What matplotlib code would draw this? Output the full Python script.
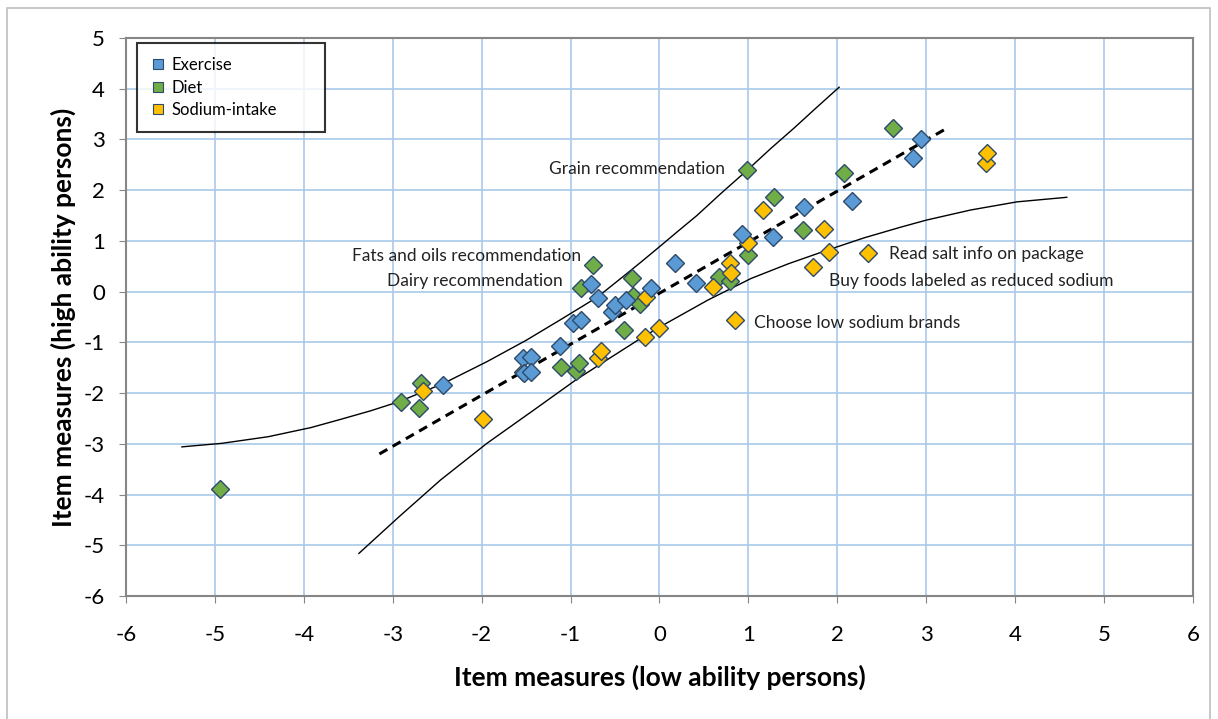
import matplotlib
matplotlib.use("Agg")
import matplotlib.pyplot as plt
from matplotlib.lines import Line2D
from matplotlib.patches import Rectangle

plt.rcParams["font.family"] = ["Lato", "DejaVu Sans"]
plt.rcParams["axes.unicode_minus"] = False

# item measures (low ability x, high ability y)
exercise_x = [-2.44, -1.53, -1.44, -1.52, -1.44, -1.12, -0.97, -0.88, -0.77, -0.69, -0.53,
              -0.50, -0.38, -0.09, 0.17, 0.41, 0.93, 1.28, 1.63, 2.17, 2.85, 2.94]
exercise_y = [-1.84, -1.31, -1.28, -1.61, -1.58, -1.07, -0.61, -0.55, 0.16, -0.13, -0.41,
              -0.26, -0.17, 0.07, 0.56, 0.18, 1.14, 1.07, 1.66, 1.79, 2.64, 3.00]

diet_x = [-4.94, -2.91, -2.71, -2.68, -1.11, -0.94, -0.90, -0.88, -0.75, -0.40, -0.31,
          -0.30, -0.22, 0.67, 0.79, 0.99, 0.98, 1.29, 1.61, 2.07, 2.63]
diet_y = [-3.89, -2.18, -2.30, -1.80, -1.48, -1.56, -1.41, 0.08, 0.52, -0.76, 0.27,
          -0.08, -0.24, 0.29, 0.21, 0.72, 2.40, 1.86, 1.21, 2.34, 3.22]

sodium_x = [-2.66, -1.99, -1.53, -0.69, -0.66, -0.16, -0.15, 0.00, 0.60, 0.79, 0.80,
            0.85, 1.00, 1.16, 1.73, 1.85, 1.91, 2.34, 3.67, 3.68]
sodium_y = [-1.96, -2.52, -1.58, -1.31, -1.18, -0.89, -0.10, -0.71, 0.10, 0.56, 0.37,
            -0.56, 0.96, 1.60, 0.49, 1.24, 0.79, 0.77, 2.54, 2.73]

# identity line and control bands
ident_x = [-3.15, 3.23]
ident_y = [-3.20, 3.22]
upper_x = [-5.37, -4.92, -4.40, -3.92, -3.59, -3.25, -2.93, -2.43, -1.94, -1.50, -1.11,
           -0.70, -0.40, -0.21, 0.01, 0.20, 0.42, 0.70, 0.99, 1.25, 1.51, 1.76, 2.02]
upper_y = [-3.06, -2.99, -2.86, -2.68, -2.52, -2.35, -2.17, -1.81, -1.38, -0.96, -0.55,
           -0.11, 0.31, 0.58, 0.90, 1.18, 1.50, 1.95, 2.40, 2.82, 3.22, 3.62, 4.03]
lower_x = [-3.38, -2.93, -2.46, -1.94, -1.41, -0.94, -0.55, -0.21, 0.01, 0.54, 1.03,
           1.45, 1.89, 2.30, 2.71, 3.00, 3.50, 4.02, 4.58]
lower_y = [-5.16, -4.44, -3.71, -2.99, -2.33, -1.74, -1.30, -0.92, -0.69, -0.17, 0.26,
           0.55, 0.82, 1.06, 1.27, 1.41, 1.61, 1.77, 1.86]

labels_right = [("Grain recommendation", 0.74, 2.41),
                ("Fats and oils recommendation", -0.88, 0.70),
                ("Dairy recommendation", -1.09, 0.21)]
labels_left = [("Read salt info on package", 2.58, 0.74),
               ("Buy foods labeled as reduced sodium", 1.91, 0.21),
               ("Choose low sodium brands", 1.06, -0.62)]

BLUE, GREEN, GOLD = "#5b9bd5", "#70ad47", "#ffc000"
EDGE = "#2e4a6b"
GRID = "#a9c9ea"
SPINE = "#868686"

fig = plt.figure(figsize=(12.18, 7.19), dpi=100)
ax = fig.add_axes([0.1034, 0.1711, 0.8761, 0.776])

ax.plot(upper_x, upper_y, color="black", lw=1.0, zorder=2)
ax.plot(lower_x, lower_y, color="black", lw=1.0, zorder=2)
ax.plot(ident_x, ident_y, color="black", lw=2.2, ls=(0, (3, 2)), zorder=2)

mk = dict(marker="D", ls="none", ms=9.5, mec=EDGE, mew=1.0, zorder=3)
ax.plot(diet_x, diet_y, mfc=GREEN, **mk)
ax.plot(sodium_x, sodium_y, mfc=GOLD, **mk)
ax.plot(exercise_x, exercise_y, mfc=BLUE, **mk)

for txt, x, y in labels_right:
    ax.text(x, y, txt, ha="right", va="center", fontsize=12.5, color="#222")
for txt, x, y in labels_left:
    ax.text(x, y, txt, ha="left", va="center", fontsize=12.5, color="#222")

ax.set_xlim(-6, 6)
ax.set_ylim(-6, 5)
ax.set_xticks(range(-6, 7))
ax.set_yticks(range(-6, 6))
ax.grid(color=GRID, lw=1.2, zorder=0)
ax.set_axisbelow(True)
for s in ax.spines.values():
    s.set_color(SPINE)
    s.set_linewidth(1.5)
ax.tick_params(direction="out", length=5, color=SPINE, labelsize=16)
ax.tick_params(axis="x", pad=16)
ax.tick_params(axis="y", pad=10)

ax.set_xlabel("Item measures (low ability persons)", fontsize=19, fontweight="bold", labelpad=14)
ax.set_ylabel("Item measures (high ability persons)", fontsize=19, fontweight="bold", labelpad=6)

handles = [Line2D([], [], marker="s", ls="none", ms=7.5, mfc=c, mec=EDGE, mew=0.8)
           for c in (BLUE, GREEN, GOLD)]
leg = ax.legend(handles, ["Exercise", "Diet", "Sodium-intake"], loc="upper left",
                bbox_to_anchor=(0.0103, 0.835, 0.176, 0.156), mode="expand",
                fontsize=12, frameon=True, fancybox=False,
                edgecolor="black", handlelength=0.8, handletextpad=0.4,
                borderpad=0.85, labelspacing=0.38, borderaxespad=0.0)
leg.get_frame().set_linewidth(1.5)
leg.set_zorder(5)

fig.patches.append(Rectangle((7 / 1218, -0.05), 1203 / 1218, 1.05 - 8 / 719,
                             transform=fig.transFigure, fill=False,
                             edgecolor="#bfbfbf", lw=1.2))

fig.savefig("out.png", dpi=100, facecolor="white")
plt.close(fig)
